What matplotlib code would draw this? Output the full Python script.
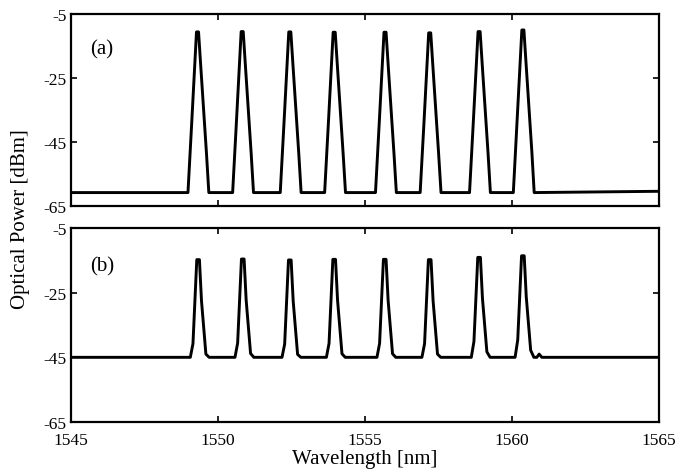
import numpy as np
import matplotlib.pyplot as plt

plt.rcParams['font.family'] = ['Liberation Serif', 'DejaVu Serif']
plt.rcParams['axes.unicode_minus'] = False

## Channel centres [nm] and peak powers [dBm]
centres_a = [1549.31, 1550.83, 1552.45, 1553.96, 1555.69, 1557.21, 1558.89, 1560.38]
peaks_a = [-10.6, -10.5, -10.6, -10.7, -10.7, -10.9, -10.5, -10.0]
floor_a = -60.8

centres_b = [1549.33, 1550.85, 1552.45, 1553.96, 1555.68, 1557.21, 1558.89, 1560.38]
peaks_b = [-14.8, -14.6, -14.9, -14.7, -14.7, -14.8, -14.1, -13.6]
floor_b = -45.0

## Peak outline: offset [nm], drop from peak [dB]
shape_a_dx = [-0.33, -0.20, -0.04, 0.03, 0.10, 0.30, 0.38]
shape_a_dy = [None, -28.0, 0.0, 0.0, -10.0, -38.0, None]
shape_b_dx = [-0.27, -0.18, -0.05, 0.04, 0.11, 0.26, 0.37]
shape_b_dy = [None, -26.0, 0.0, 0.0, -12.7, -29.2, None]

## Small side bump after the last channel in (b)
bump_b_x = [1560.85, 1560.93, 1561.02]
bump_b_y = [-45.0, -44.0, -45.0]

def spectrum(centres, peaks, floor, dx, dy, start=1545, stop=1565):
  x = [start]
  y = [floor]
  for c, p in zip(centres, peaks):
    for ox, oy in zip(dx, dy):
      x.append(c + ox)
      y.append(floor if oy is None else p + oy)
  x.append(stop)
  y.append(floor)
  return np.array(x), np.array(y)

xa, ya = spectrum(centres_a, peaks_a, floor_a, shape_a_dx, shape_a_dy)
ya[-1] = -60.4
xb, yb = spectrum(centres_b, peaks_b, floor_b, shape_b_dx, shape_b_dy)
i = np.searchsorted(xb, bump_b_x[0])
xb = np.insert(xb, i, bump_b_x)
yb = np.insert(yb, i, bump_b_y)

fig = plt.figure(figsize=(6.78, 4.77), dpi=100, facecolor="white")
ax1 = fig.add_axes([0.1047, 0.566, 0.867, 0.4026])
ax2 = fig.add_axes([0.1047, 0.1132, 0.867, 0.4068])

yticks = [-5, -25, -45, -65]
for ax, x, y, tag, ty in [(ax1, xa, ya, "(a)", -15.9), (ax2, xb, yb, "(b)", -16.7)]:
  ax.plot(x, y, c="black", lw=2.1, solid_joinstyle="round")
  ax.set_xlim(1545, 1565)
  ax.set_ylim(-65, -5)
  ax.set_xticks([1545, 1550, 1555, 1560, 1565])
  ax.set_yticks(yticks)
  ax.set_yticklabels([str(t) for t in yticks])
  ax.tick_params(direction="in", length=4, width=1.2, top=True, right=True,
    labelsize=12.5, pad=3)
  ax.tick_params(axis="x", pad=7)
  for s in ax.spines.values():
    s.set_linewidth(1.6)
  ax.text(1545.65, ty, tag, fontsize=15, va="center")

ax1.set_xticklabels([])
ax2.set_xlabel("Wavelength [nm]", fontsize=15, labelpad=1)
fig.text(0.03, 0.54, "Optical Power [dBm]", rotation=90, fontsize=15,
  va="center", ha="center")

plt.savefig("out.png", dpi=100, facecolor="white")
